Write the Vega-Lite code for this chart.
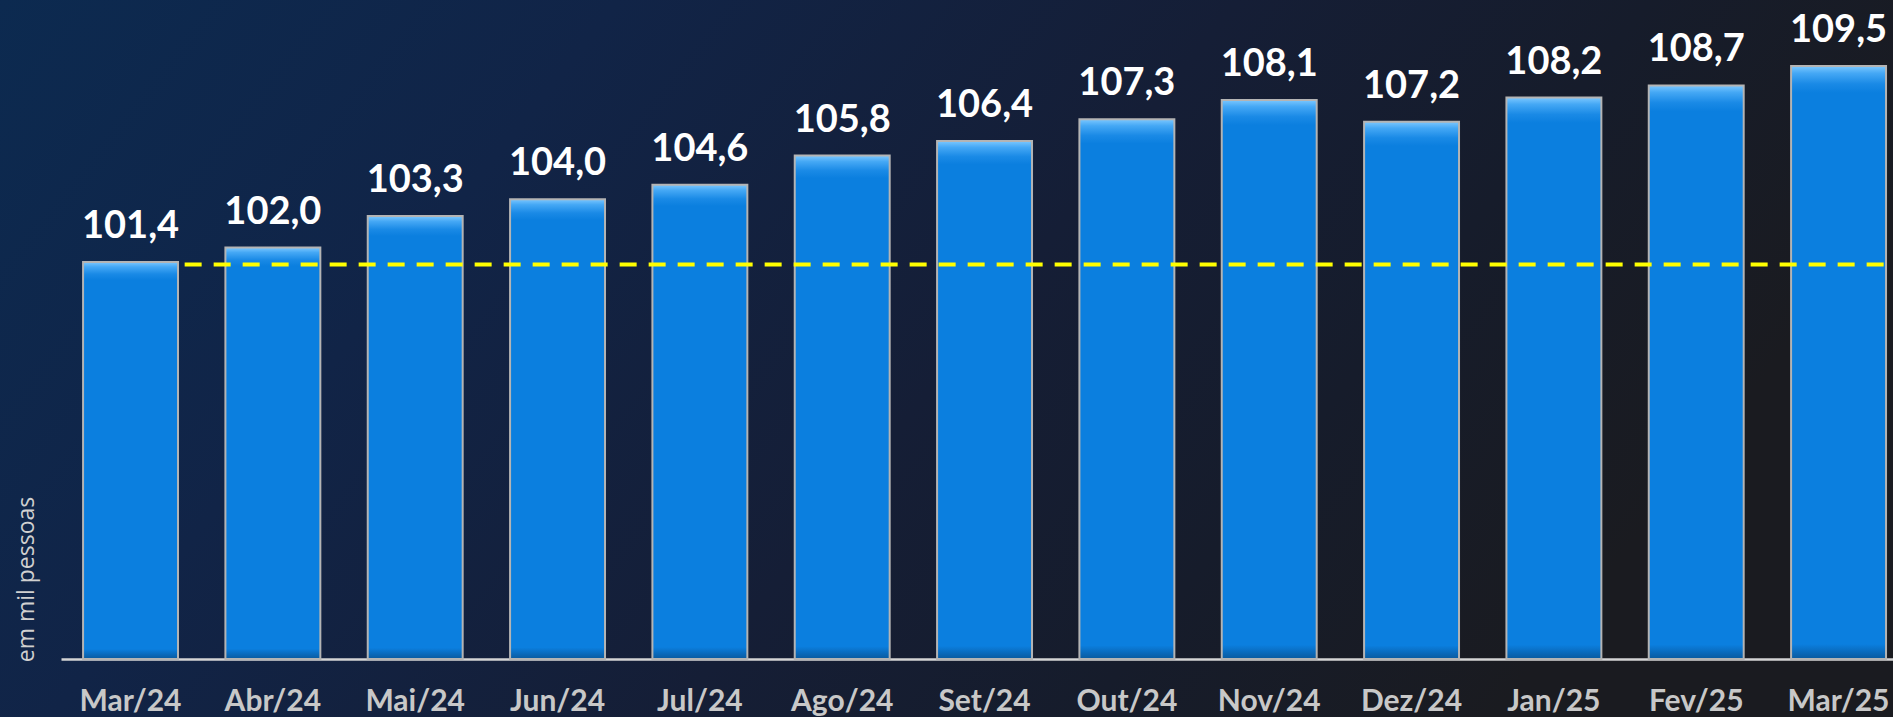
{
  "$schema": "https://vega.github.io/schema/vega-lite/v6.json",
  "width": 1893,
  "height": 717,
  "padding": 0,
  "autosize": {"type": "none"},
  "background": "#141f38",
  "view": {
    "stroke": null,
    "fill": {
      "gradient": "linear", "x1": 0, "y1": 0, "x2": 1, "y2": 0.3,
      "stops": [
        {"offset": 0, "color": "#0c2a50"},
        {"offset": 0.3, "color": "#112447"},
        {"offset": 0.6, "color": "#151e36"},
        {"offset": 0.8, "color": "#161c2b"},
        {"offset": 1, "color": "#1a1b20"}
      ]
    }
  },
  "config": {
    "locale": {"number": {"decimal": ",", "thousands": ".", "grouping": [3], "currency": ["R$", ""]}},
    "font": "Lato"
  },
  "data": {
    "values": [
      {"month": "Mar/24", "value": 101.4},
      {"month": "Abr/24", "value": 102.0},
      {"month": "Mai/24", "value": 103.3},
      {"month": "Jun/24", "value": 104.0},
      {"month": "Jul/24", "value": 104.6},
      {"month": "Ago/24", "value": 105.8},
      {"month": "Set/24", "value": 106.4},
      {"month": "Out/24", "value": 107.3},
      {"month": "Nov/24", "value": 108.1},
      {"month": "Dez/24", "value": 107.2},
      {"month": "Jan/25", "value": 108.2},
      {"month": "Fev/25", "value": 108.7},
      {"month": "Mar/25", "value": 109.5}
    ]
  },
  "encoding": {
    "x": {
      "field": "month", "type": "nominal",
      "scale": {
        "domain": ["Mar/24", "Abr/24", "Mai/24", "Jun/24", "Jul/24", "Ago/24", "Set/24", "Out/24", "Nov/24", "Dez/24", "Jan/25", "Fev/25", "Mar/25"],
        "range": [61, 1893], "paddingInner": 0.333, "paddingOuter": 0.102, "align": 0.76
      },
      "axis": {
        "title": null, "orient": "bottom", "offset": -58, "labelAngle": 0,
        "ticks": false, "grid": false,
        "domainColor": "#d4d4d4", "domainWidth": 2.5,
        "labelColor": "#c8c8c8", "labelFont": "Lato", "labelFontWeight": "bold", "labelFontSize": 30,
        "labelBaseline": "alphabetic", "labelPadding": 51
      }
    },
    "y": {
      "field": "value", "type": "quantitative",
      "scale": {"domain": [82.6, 112.23], "zero": false, "nice": false},
      "axis": {
        "title": "em mil pessoas", "domain": false, "ticks": false, "labels": false, "grid": false,
        "titleX": 26, "titleY": 579, "titleAngle": 270, "titleAlign": "center", "titleBaseline": "middle",
        "titleFont": "Open Sans", "titleFontWeight": "normal", "titleFontSize": 23, "titleColor": "#d0d0d0"
      }
    }
  },
  "layer": [
    {
      "mark": {
        "type": "bar",
        "stroke": "#b4b4b4", "strokeWidth": 2,
        "fill": {
          "gradient": "linear", "x1": 0, "y1": 0, "x2": 0, "y2": 1,
          "stops": [
            {"offset": 0, "color": "#7cc8ff"},
            {"offset": 0.012, "color": "#45a8f5"},
            {"offset": 0.03, "color": "#1a8ae6"},
            {"offset": 0.045, "color": "#0b7fdf"},
            {"offset": 0.975, "color": "#0b7fdf"},
            {"offset": 0.99, "color": "#0a68b8"},
            {"offset": 1, "color": "#0a5a9e"}
          ]
        }
      },
      "encoding": {
        "y2": {"datum": 85}
      }
    },
    {
      "mark": {"type": "text", "baseline": "alphabetic", "dy": -24, "fontSize": 38, "fontWeight": "bold", "color": "#ffffff", "font": "Lato"},
      "encoding": {
        "text": {"field": "value", "type": "quantitative", "format": ".1f"}
      }
    },
    {
      "data": {"values": [{"ref": 101.3}]},
      "mark": {"type": "rule", "color": "#ffff00", "strokeWidth": 4, "strokeDash": [17, 12]},
      "encoding": {
        "x": {"datum": "Mar/24", "type": "nominal", "bandPosition": 1.07},
        "x2": {"datum": "Mar/25", "bandPosition": 1},
        "y": {"field": "ref", "type": "quantitative"}
      }
    }
  ]
}
